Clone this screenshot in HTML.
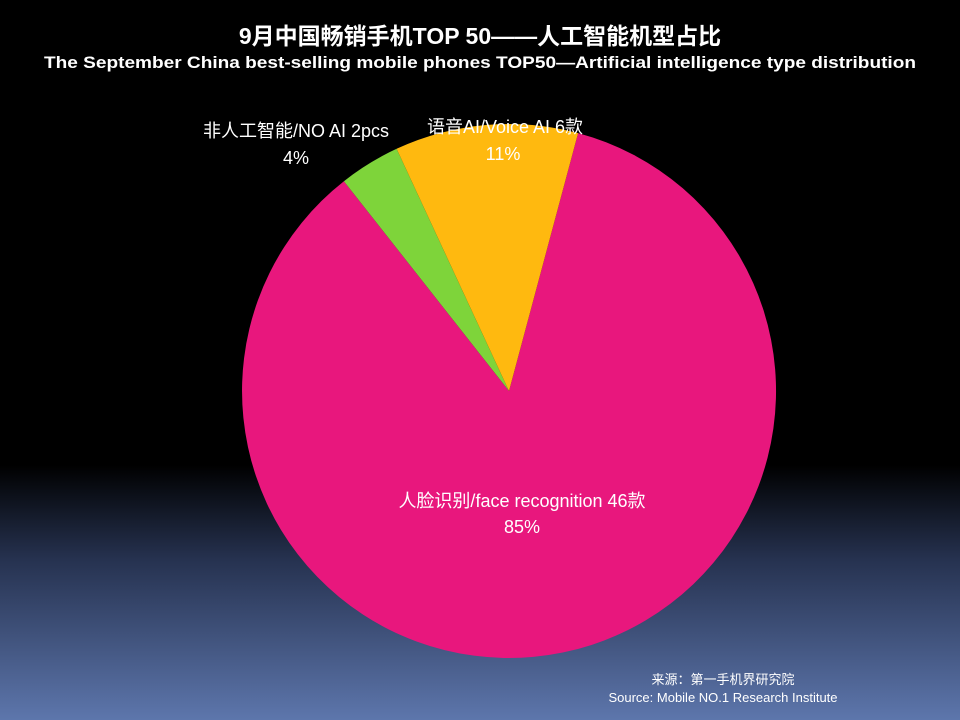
<!DOCTYPE html>
<html><head><meta charset="utf-8"><style>
body{margin:0;width:960px;height:720px;overflow:hidden;background:linear-gradient(to bottom,#000 0px,#000 465px,#263250 560px,#5d76ac 720px);font-family:"Liberation Sans","Noto Sans CJK SC",sans-serif;}
</style></head><body>
<svg width="960" height="720" xmlns="http://www.w3.org/2000/svg" style="position:absolute;left:0;top:0">
<text x="480" y="44" text-anchor="middle" font-size="23" font-weight="bold" fill="#fff" font-family="Liberation Sans,Noto Sans CJK SC,sans-serif">9月中国畅销手机TOP 50——人工智能机型占比</text>
<text x="480" y="68" text-anchor="middle" font-size="17" font-weight="bold" fill="#fff" font-family="Liberation Sans,sans-serif" textLength="872" lengthAdjust="spacingAndGlyphs">The  September  China  best-selling  mobile  phones  TOP50—Artificial intelligence type distribution</text>
<path d="M509,391 L578.1,133.1 A267,267 0 1,1 343.9,181.2 Z" fill="#e8177d"/>
<path d="M509,391 L343.9,181.2 A267,267 0 0,1 396.6,148.8 Z" fill="#7ed43a"/>
<path d="M509,391 L396.6,148.8 A267,267 0 0,1 578.1,133.1 Z" fill="#ffb90f"/>
<g font-family="Liberation Sans,Noto Sans CJK SC,sans-serif" fill="#fff" font-size="18" text-anchor="middle">
<text x="296" y="137">非人工智能/NO AI 2pcs</text>
<text x="296" y="164">4%</text>
<text x="505" y="133">语音AI/Voice AI  6款</text>
<text x="503" y="160">11%</text>
<text x="522" y="507">人脸识别/face recognition 46款</text>
<text x="522" y="533">85%</text>
</g>
<g font-family="Liberation Sans,Noto Sans CJK SC,sans-serif" fill="#fff" font-size="13" text-anchor="middle">
<text x="723" y="684">来源：第一手机界研究院</text>
<text x="723" y="702">Source: Mobile NO.1 Research Institute</text>
</g>
</svg>
</body></html>
